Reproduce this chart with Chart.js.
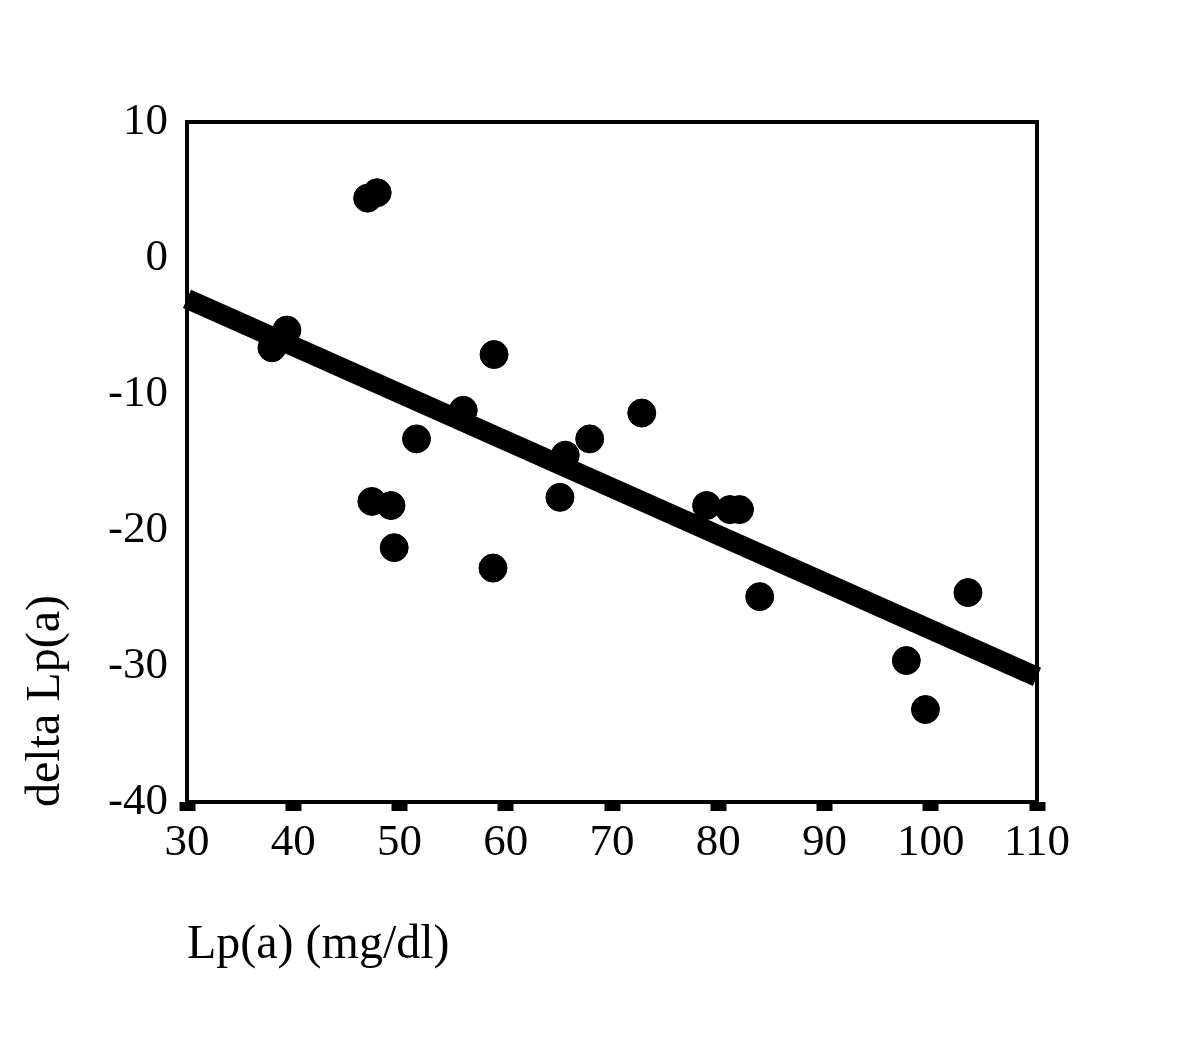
<!DOCTYPE html>
<html>
<head>
<meta charset="utf-8">
<script src="https://cdn.jsdelivr.net/npm/chart.js@4"></script>
<style>
  html, body { margin: 0; padding: 0; background: #fff; }
  #wrap { width: 1199px; height: 1037px; }
</style>
</head>
<body>
<div id="wrap"><canvas id="scatterChart"></canvas></div>
<script>
// Lp(a) baseline vs change
const lpaValues = [47.0, 47.9, 38.0, 39.4, 47.4, 49.2, 49.5, 51.6, 56.0, 58.9, 58.8, 65.6, 65.1, 67.9, 72.8, 78.9, 81.1, 82.0, 83.9, 97.7, 99.5, 103.5];
const deltaValues = [4.4, 4.8, -6.6, -5.3, -17.9, -18.2, -21.3, -13.3, -11.2, -7.1, -22.8, -14.5, -17.6, -13.3, -11.4, -18.2, -18.5, -18.5, -24.9, -29.6, -33.2, -24.6];

// regression line end points
const fitX = [30, 110];
const fitY = [-3.0, -30.8];

const xTicks = [30, 40, 50, 60, 70, 80, 90, 100, 110];
const yTicks = [10, 0, -10, -20, -30, -40];

const FONT = '"Liberation Serif", "Times New Roman", serif';

const framePlugin = {
    id: 'frame',
    afterDraw(chart) {
        const { ctx, chartArea } = chart;
        ctx.save();
        ctx.strokeStyle = '#000';
        ctx.lineWidth = 4;
        ctx.strokeRect(chartArea.left, chartArea.top, chartArea.right - chartArea.left, chartArea.bottom - chartArea.top);

        // axis titles
        ctx.fillStyle = '#000';
        ctx.font = '48px ' + FONT;
        ctx.textBaseline = 'middle';
        ctx.textAlign = 'left';
        ctx.fillText('Lp(a) (mg/dl)', chartArea.left, 945);

        ctx.translate(46, 701);
        ctx.rotate(-Math.PI / 2);
        ctx.textAlign = 'center';
        ctx.fillText('delta Lp(a)', 0, 0);
        ctx.restore();
    }
};

const ctx = document.getElementById('scatterChart').getContext('2d');
new Chart(ctx, {
    type: 'scatter',
    data: {
        datasets: [
            {
                type: 'line',
                data: fitX.map((x, i) => ({ x, y: fitY[i] })),
                borderColor: '#000',
                borderWidth: 20,
                borderCapStyle: 'butt',
                pointRadius: 0,
                fill: false,
                clip: false,
                order: 2
            },
            {
                data: lpaValues.map((x, i) => ({ x, y: deltaValues[i] })),
                backgroundColor: '#000',
                borderColor: '#000',
                pointRadius: 14,
                pointHoverRadius: 14,
                order: 1
            }
        ]
    },
    options: {
        responsive: true,
        maintainAspectRatio: false,
        animation: false,
        events: [],
        layout: { padding: { left: 0, top: 122, right: 162, bottom: 0 } },
        plugins: {
            legend: { display: false },
            tooltip: { enabled: false }
        },
        scales: {
            x: {
                type: 'linear',
                min: 30,
                max: 110,
                afterFit: axis => { axis.height = 235; },
                afterBuildTicks: axis => { axis.ticks = xTicks.map(v => ({ value: v })); },
                grid: {
                    display: true,
                    drawOnChartArea: false,
                    drawTicks: true,
                    tickLength: 9,
                    tickWidth: 16,
                    tickColor: '#000'
                },
                border: { display: false },
                ticks: {
                    color: '#000',
                    padding: 5,
                    font: { family: FONT, size: 45 }
                }
            },
            y: {
                type: 'linear',
                min: -40,
                max: 10,
                afterFit: axis => { axis.width = 187; },
                afterBuildTicks: axis => { axis.ticks = yTicks.map(v => ({ value: v })); },
                grid: { display: false, drawTicks: false },
                border: { display: false },
                ticks: {
                    color: '#000',
                    padding: 19,
                    font: { family: FONT, size: 45 }
                }
            }
        }
    },
    plugins: [framePlugin]
});
</script>
</body>
</html>
